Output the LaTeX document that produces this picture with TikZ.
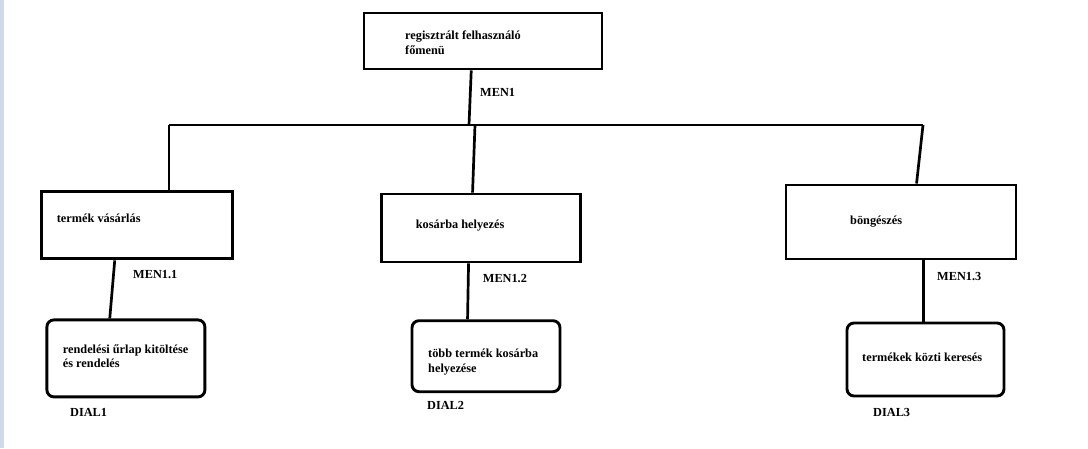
\documentclass[tikz,border=0pt]{standalone}
\usepackage{fontspec}
\setmainfont{Liberation Serif}
\definecolor{stripcol}{HTML}{D0D9EA}
\begin{document}
\begin{tikzpicture}[x=1pt,y=-1pt,
  menubox/.style={draw,line width=2.9pt,inner sep=0pt,anchor=center},
  dialbox/.style={draw,line width=2.9pt,inner sep=0pt,anchor=center,rounded corners=7pt},
  lbl/.style={anchor=base west,inner sep=0pt,font=\fontsize{12.3}{14}\selectfont\bfseries},
  conn/.style={line width=2.7pt}]
\useasboundingbox (0,0) rectangle (1088,448);
\fill[stripcol] (0,0) rectangle (4,448);
% menu boxes
\node[menubox,minimum width=238pt,minimum height=56pt] (top) at (483,41) {};
\node[menubox,minimum width=191pt,minimum height=67pt] (m1) at (137.4,225.4) {};
\node[menubox,minimum width=199pt,minimum height=68pt] (m2) at (481.2,228) {};
\node[menubox,minimum width=230pt,minimum height=74pt] (m3) at (901,222) {};
% dialog boxes
\node[dialbox,minimum width=158pt,minimum height=77pt] (d1) at (125.9,358.4) {};
\node[dialbox,minimum width=148pt,minimum height=71pt] (d2) at (486,356.2) {};
\node[dialbox,minimum width=157pt,minimum height=73pt] (d3) at (925.5,359.5) {};
% bar coordinates
\coordinate (b0) at (469,125);
\coordinate (b1) at (169,125);
\coordinate (b2) at (475,125);
\coordinate (b3) at (923,125);
% connectors
\draw[conn] ([xshift=108.7pt]top.south west) -- (b0);
\draw[conn] (b1) -- (b3);
\draw[conn] (b1) -- (m1.north -| b1);
\draw[conn] (b2) -- ([xshift=92.3pt]m2.north west);
\draw[conn] (b3) -- ([xshift=132pt]m3.north west);
\draw[conn] ([xshift=74.3pt]m1.south west) -- ([xshift=64.3pt]d1.north west);
\draw[conn] ([xshift=88.3pt]m2.south west) -- ([xshift=57pt]d2.north west);
\draw[conn] ([xshift=139pt]m3.south west) -- ([xshift=78pt]d3.north west);
% texts
\node[lbl] (t0a) at (405,39) {regisztrált felhasználó};
\node[lbl] (t0b) at (405,54) {főmenü};
\node[lbl] (men1) at (480,96) {MEN1};
\node[lbl] (t1) at (56.7,222) {termék vásárlás};
\node[lbl] (t2) at (415.7,228) {kosárba helyezés};
\node[lbl] (t3) at (850,224) {böngészés};
\node[lbl] (men11) at (133,278) {MEN1.1};
\node[lbl] (men12) at (482.7,282) {MEN1.2};
\node[lbl] (men13) at (937,280) {MEN1.3};
\node[lbl] (u1a) at (62.7,353) {rendelési űrlap kitöltése};
\node[lbl] (u1b) at (62.7,367) {és rendelés};
\node[lbl] (u2a) at (428,357) {több termék kosárba};
\node[lbl] (u2b) at (428,372) {helyezése};
\node[lbl] (u3) at (862,361) {termékek közti keresés};
\node[lbl] (dial1) at (70,416.5) {DIAL1};
\node[lbl] (dial2) at (427,409) {DIAL2};
\node[lbl] (dial3) at (873,416.5) {DIAL3};
\end{tikzpicture}
\end{document}
